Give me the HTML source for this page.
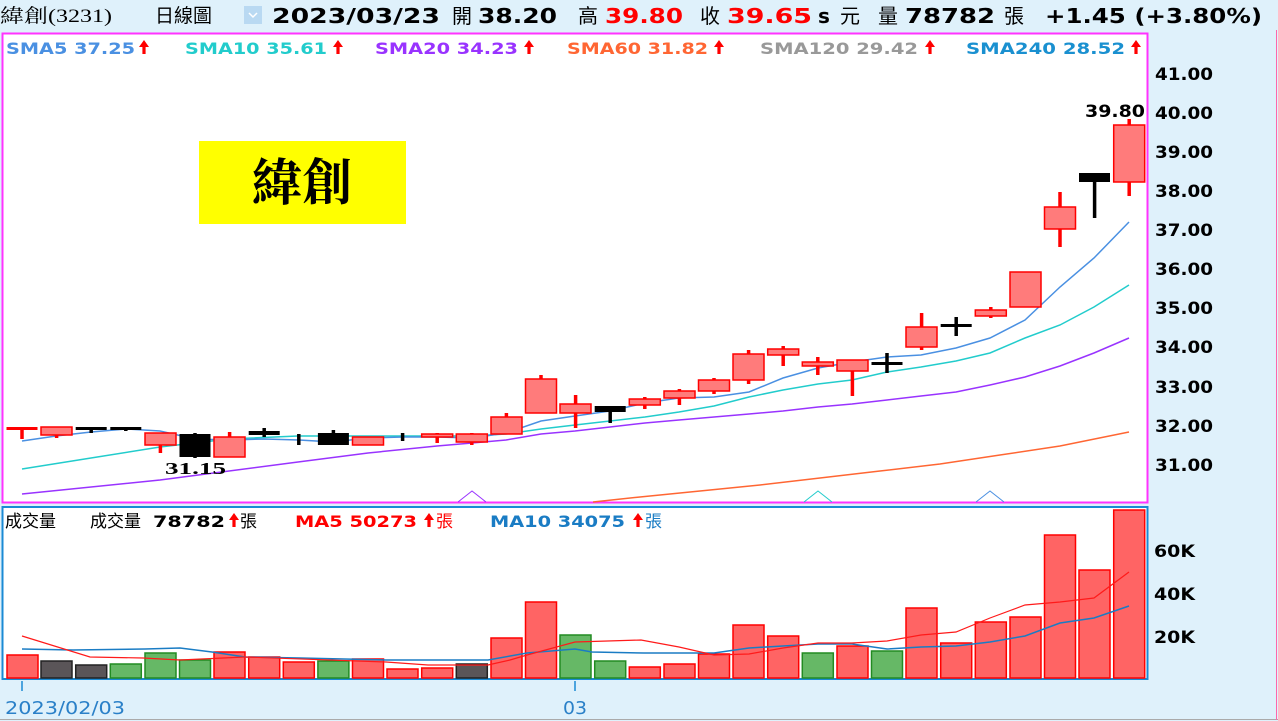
<!DOCTYPE html>
<html><head><meta charset="utf-8">
<style>
html,body{margin:0;padding:0;background:#dff1fb;}
body{width:1278px;height:721px;overflow:hidden;position:relative;}
svg{position:absolute;left:0;top:0;}
</style></head><body>
<svg width="1278" height="721" viewBox="0 0 1278 721" font-family="DejaVu Sans, Noto Sans CJK TC, sans-serif">
<defs><path id="ar" d="M0,-7 L5,0 L1.6,0 L1.6,7 L-1.6,7 L-1.6,0 L-5,0Z" fill="#f00"/></defs>
<rect x="0" y="0" width="1278" height="721" fill="#dff1fb"/>
<!-- header -->
<g lengthAdjust="spacingAndGlyphs">
<text x="0" y="22" font-size="19" fill="#000" textLength="112" lengthAdjust="spacingAndGlyphs" font-family="Liberation Serif, Noto Serif CJK SC, Noto Sans CJK TC, serif">緯創(3231)</text>
<text x="155" y="22" font-size="19" fill="#000" font-family="Noto Sans CJK TC, sans-serif">日線圖</text>
</g>
<rect x="244" y="6" width="18" height="18" fill="#b9d9f2"/>
<polyline points="249,13 253,17 257,13" fill="none" stroke="#fff" stroke-width="1.5"/>
<g font-size="20" font-weight="bold">
<text x="272" y="23" fill="#000" textLength="168" lengthAdjust="spacingAndGlyphs">2023/03/23</text>
<text x="452" y="23" fill="#000" font-weight="normal" font-family="Noto Sans CJK TC, sans-serif">開</text>
<text x="478" y="23" fill="#000" textLength="79" lengthAdjust="spacingAndGlyphs">38.20</text>
<text x="578" y="23" fill="#000" font-weight="normal" font-family="Noto Sans CJK TC, sans-serif">高</text>
<text x="605" y="23" fill="#ff0000" textLength="78" lengthAdjust="spacingAndGlyphs">39.80</text>
<text x="700" y="23" fill="#000" font-weight="normal" font-family="Noto Sans CJK TC, sans-serif">收</text>
<text x="727" y="23" fill="#ff0000" textLength="85" lengthAdjust="spacingAndGlyphs">39.65</text>
<text x="818" y="23" fill="#000">s</text>
<text x="840" y="23" fill="#000" font-weight="normal" font-family="Noto Sans CJK TC, sans-serif">元</text>
<text x="878" y="23" fill="#000" font-weight="normal" font-family="Noto Sans CJK TC, sans-serif">量</text>
<text x="905" y="23" fill="#000" textLength="90" lengthAdjust="spacingAndGlyphs">78782</text>
<text x="1004" y="23" fill="#000" font-weight="normal" font-family="Noto Sans CJK TC, sans-serif">張</text>
<text x="1045" y="23" fill="#000" textLength="217" lengthAdjust="spacingAndGlyphs">+1.45 (+3.80%)</text>
</g>
<!-- price panel -->
<rect x="2.5" y="33.5" width="1145" height="469" fill="#fff" stroke="#ff33ff" stroke-width="2"/>
<g font-size="16" font-weight="bold">
<text x="6" y="54" fill="#4a90e2" textLength="129" lengthAdjust="spacingAndGlyphs">SMA5 37.25</text>
<text x="185" y="54" fill="#22cccc" textLength="142" lengthAdjust="spacingAndGlyphs">SMA10 35.61</text>
<text x="375" y="54" fill="#9933ff" textLength="143" lengthAdjust="spacingAndGlyphs">SMA20 34.23</text>
<text x="567" y="54" fill="#ff6633" textLength="141" lengthAdjust="spacingAndGlyphs">SMA60 31.82</text>
<text x="760" y="54" fill="#999" textLength="158" lengthAdjust="spacingAndGlyphs">SMA120 29.42</text>
<text x="966" y="54" fill="#1a90d0" textLength="159" lengthAdjust="spacingAndGlyphs">SMA240 28.52</text>
</g>
<use href="#ar" x="144" y="47"/><use href="#ar" x="338" y="47"/><use href="#ar" x="529" y="47"/>
<use href="#ar" x="719" y="47"/><use href="#ar" x="930" y="47"/><use href="#ar" x="1136" y="47"/>
<!-- right axis -->
<g font-size="17" font-weight="bold" fill="#000">
<text x="1155" y="80" textLength="58" lengthAdjust="spacingAndGlyphs">41.00</text><text x="1155" y="119" textLength="58" lengthAdjust="spacingAndGlyphs">40.00</text><text x="1155" y="158" textLength="58" lengthAdjust="spacingAndGlyphs">39.00</text>
<text x="1155" y="197" textLength="58" lengthAdjust="spacingAndGlyphs">38.00</text><text x="1155" y="236" textLength="58" lengthAdjust="spacingAndGlyphs">37.00</text><text x="1155" y="275" textLength="58" lengthAdjust="spacingAndGlyphs">36.00</text>
<text x="1155" y="314" textLength="58" lengthAdjust="spacingAndGlyphs">35.00</text><text x="1155" y="353" textLength="58" lengthAdjust="spacingAndGlyphs">34.00</text><text x="1155" y="393" textLength="58" lengthAdjust="spacingAndGlyphs">33.00</text>
<text x="1155" y="432" textLength="58" lengthAdjust="spacingAndGlyphs">32.00</text><text x="1155" y="471" textLength="58" lengthAdjust="spacingAndGlyphs">31.00</text>
</g>
<!-- title -->
<rect x="199" y="141" width="207" height="83" fill="#ffff00"/>
<text x="302" y="200" font-size="50" font-weight="bold" text-anchor="middle" fill="#000" font-family="Noto Serif CJK SC, Noto Sans CJK TC, serif">緯創</text>
<!-- MA lines -->
<polyline fill="none" stroke="#ff6633" stroke-width="1.5" points="593,502 640,497 700,491 760,485 820,478 880,471 940,464 1000,455 1060,446 1129,432"/>
<polyline fill="none" stroke="#9933ff" stroke-width="1.5" points="22,494 160,480 298,462 368,453 437,446 472,443 506,440 541,434 575,431 610,427 645,423 679,420 714,417 749,414 783,411 818,407 852,404 887,400 921,396 956,392 990,385 1025,377 1060,366 1094,353 1129,338"/>
<polyline fill="none" stroke="#22cccc" stroke-width="1.5" points="22,469 91,458 160,447 229,439 298,436 368,436 437,436 472,436 506,434 541,429 575,425 610,421 645,417 679,412 714,406 749,397 783,390 818,384 852,380 887,372 921,367 956,361 990,353 1025,338 1060,325 1094,307 1129,285"/>
<polyline fill="none" stroke="#4a90e2" stroke-width="1.5" points="22,441 56,436 91,432 126,429 160,431 195,439 230,440 264,439 299,440 333,442 368,438 403,437 437,437 472,438 506,433 541,421 575,416 610,411 645,403 679,398 714,397 749,392 783,378 818,368 852,362 887,357 921,355 956,348 990,338 1025,320 1060,287 1094,258 1129,222"/>
<polyline fill="none" stroke="#9933ff" stroke-width="1" points="458,502 472,491 486,502"/>
<polyline fill="none" stroke="#22cccc" stroke-width="1" points="804,502 818,491 832,502"/>
<polyline fill="none" stroke="#4a90e2" stroke-width="1" points="976,502 990,491 1004,502"/>
<!-- candles -->
<g stroke-width="3.5">
<line x1="22" y1="428" x2="22" y2="439" stroke="#f00"/><rect x="6.5" y="427" width="31" height="3" fill="#f00"/>
<line x1="56.6" y1="430" x2="56.6" y2="438" stroke="#f00"/>
<line x1="91.2" y1="428" x2="91.2" y2="433" stroke="#000"/>
<line x1="125.8" y1="428" x2="125.8" y2="431" stroke="#000"/>
<line x1="160.4" y1="440" x2="160.4" y2="453" stroke="#f00"/>
<line x1="195" y1="433" x2="195" y2="458" stroke="#000"/>
<line x1="229.6" y1="432" x2="229.6" y2="440" stroke="#f00"/>
<line x1="264.2" y1="428" x2="264.2" y2="437" stroke="#000"/>
<line x1="298.8" y1="434" x2="298.8" y2="445" stroke="#000"/>
<line x1="333.4" y1="430" x2="333.4" y2="440" stroke="#000"/>
<line x1="402.6" y1="433" x2="402.6" y2="441" stroke="#000"/>
<line x1="437.2" y1="433" x2="437.2" y2="443" stroke="#f00"/>
<line x1="471.8" y1="433" x2="471.8" y2="445" stroke="#f00"/>
<line x1="506.4" y1="413" x2="506.4" y2="420" stroke="#f00"/>
<line x1="541" y1="375" x2="541" y2="380" stroke="#f00"/>
<line x1="575.6" y1="395" x2="575.6" y2="428" stroke="#f00"/>
<line x1="610.2" y1="408" x2="610.2" y2="423" stroke="#000"/>
<line x1="644.8" y1="397" x2="644.8" y2="409" stroke="#f00"/>
<line x1="679.4" y1="389" x2="679.4" y2="405" stroke="#f00"/>
<line x1="714" y1="378" x2="714" y2="394" stroke="#f00"/>
<line x1="748.6" y1="350" x2="748.6" y2="384" stroke="#f00"/>
<line x1="783.2" y1="346" x2="783.2" y2="366" stroke="#f00"/>
<line x1="817.8" y1="357" x2="817.8" y2="375" stroke="#f00"/>
<line x1="852.4" y1="365" x2="852.4" y2="396" stroke="#f00"/>
<line x1="887" y1="353" x2="887" y2="373" stroke="#000"/>
<line x1="921.6" y1="313" x2="921.6" y2="350" stroke="#f00"/>
<line x1="956.2" y1="317" x2="956.2" y2="336" stroke="#000"/>
<line x1="990.8" y1="307" x2="990.8" y2="318" stroke="#f00"/>
<line x1="1060" y1="192" x2="1060" y2="247" stroke="#f00"/>
<line x1="1094.6" y1="178" x2="1094.6" y2="218" stroke="#000"/>
<line x1="1129.2" y1="119" x2="1129.2" y2="196" stroke="#f00"/>
</g>
<g fill="#ff7b7b" stroke="#f00" stroke-width="1.5">
<rect x="41" y="427" width="31" height="8"/>
<rect x="145" y="433" width="31" height="12"/>
<rect x="214" y="437" width="31" height="20"/>
<rect x="352.5" y="437" width="31" height="8"/>
<rect x="421.7" y="434" width="31" height="3"/>
<rect x="456.3" y="434" width="31" height="8"/>
<rect x="491" y="417" width="31" height="17"/>
<rect x="525.5" y="379" width="31" height="34"/>
<rect x="560" y="404" width="31" height="9"/>
<rect x="629.3" y="399" width="31" height="6"/>
<rect x="664" y="391" width="31" height="7"/>
<rect x="698.5" y="380" width="31" height="11"/>
<rect x="733" y="354" width="31" height="26"/>
<rect x="767.7" y="349" width="31" height="6"/>
<rect x="802.3" y="362" width="31" height="4"/>
<rect x="837" y="360" width="31" height="11"/>
<rect x="906" y="327" width="31" height="20"/>
<rect x="975.3" y="310" width="31" height="6"/>
<rect x="1010" y="272" width="31" height="35"/>
<rect x="1044.5" y="207" width="31" height="22"/>
<rect x="1113.7" y="125" width="31" height="57"/>
</g>
<g fill="#000">
<rect x="75.7" y="427" width="31" height="3"/>
<rect x="110.3" y="427" width="31" height="3"/>
<rect x="179.5" y="434" width="31" height="23"/>
<rect x="248.7" y="431" width="31" height="4"/>
<rect x="317.9" y="433" width="31" height="12"/>
<rect x="594.7" y="406" width="31" height="6"/>
<rect x="871.5" y="362" width="31" height="3"/>
<rect x="940.7" y="324" width="31" height="3"/>
<rect x="1079" y="173" width="31" height="9"/>
</g>
<text x="165" y="474" font-size="17" font-weight="bold" fill="#000" textLength="61" lengthAdjust="spacingAndGlyphs" font-family="Liberation Serif, serif">31.15</text>
<text x="1085" y="117" font-size="17" font-weight="bold" fill="#000" textLength="60" lengthAdjust="spacingAndGlyphs">39.80</text>
<!-- volume panel -->
<rect x="2.5" y="507" width="1145" height="172" fill="#fff" stroke="#1a8ad4" stroke-width="2"/>
<g font-size="17" font-family="Noto Sans CJK TC, sans-serif">
<text x="5" y="527" fill="#000">成交量</text>
<text x="90" y="527" fill="#000">成交量</text>
<text x="240" y="527" fill="#000">張</text>
<text x="436" y="527" fill="#f00">張</text>
<text x="645" y="527" fill="#1a7cc4">張</text>
</g>
<g font-size="16" font-weight="bold">
<text x="153" y="527" fill="#000" textLength="72" lengthAdjust="spacingAndGlyphs">78782</text>
<text x="295" y="527" fill="#f00" textLength="122" lengthAdjust="spacingAndGlyphs">MA5 50273</text>
<text x="490" y="527" fill="#1a7cc4" textLength="135" lengthAdjust="spacingAndGlyphs">MA10 34075</text>
</g>
<use href="#ar" x="234" y="520"/><use href="#ar" x="429" y="520"/><use href="#ar" x="638" y="520"/>
<g font-size="17" font-weight="bold" fill="#000">
<text x="1154" y="557" textLength="41" lengthAdjust="spacingAndGlyphs">60K</text><text x="1154" y="600" textLength="41" lengthAdjust="spacingAndGlyphs">40K</text><text x="1154" y="643" textLength="41" lengthAdjust="spacingAndGlyphs">20K</text>
</g>
<g stroke-width="1.5">
<g fill="#ff6464" stroke="#f00">
<rect x="7" y="655" width="31" height="23"/>
<rect x="214" y="652" width="31" height="26"/>
<rect x="248.7" y="657" width="31" height="21"/>
<rect x="283.3" y="662" width="31" height="16"/>
<rect x="352.5" y="659" width="31" height="19"/>
<rect x="387" y="669" width="31" height="9"/>
<rect x="421.7" y="668" width="31" height="10"/>
<rect x="491" y="638" width="31" height="40"/>
<rect x="525.5" y="602" width="31" height="76"/>
<rect x="629.3" y="667" width="31" height="11"/>
<rect x="664" y="664" width="31" height="14"/>
<rect x="698.5" y="654" width="31" height="24"/>
<rect x="733" y="625" width="31" height="53"/>
<rect x="767.7" y="636" width="31" height="42"/>
<rect x="837" y="646" width="31" height="32"/>
<rect x="906" y="608" width="31" height="70"/>
<rect x="940.7" y="643" width="31" height="35"/>
<rect x="975.3" y="622" width="31" height="56"/>
<rect x="1010" y="617" width="31" height="61"/>
<rect x="1044.5" y="535" width="31" height="143"/>
<rect x="1079" y="570" width="31" height="108"/>
<rect x="1113.7" y="510" width="31" height="168"/>
</g>
<g fill="#66b866" stroke="#228b22">
<rect x="110.3" y="664" width="31" height="14"/>
<rect x="145" y="653" width="31" height="25"/>
<rect x="179.5" y="660" width="31" height="18"/>
<rect x="317.9" y="661" width="31" height="17"/>
<rect x="560" y="635" width="31" height="43"/>
<rect x="594.7" y="661" width="31" height="17"/>
<rect x="802.3" y="653" width="31" height="25"/>
<rect x="871.5" y="651" width="31" height="27"/>
</g>
<g fill="#5a5558" stroke="#222">
<rect x="41" y="661" width="31" height="17"/>
<rect x="75.7" y="665" width="31" height="13"/>
<rect x="456.3" y="664" width="31" height="14"/>
</g>
</g>
<polyline fill="none" stroke="#1a7cc4" stroke-width="1.5" points="22,649 73,650 145,649 180,648 212,652 245,657 300,658 386,660 488,660 527,653 575,649 592,652 644,653 714,653 749,648 783,646 818,644 852,644 887,649 921,647 956,646 990,642 1025,636 1060,623 1094,618 1129,606"/>
<polyline fill="none" stroke="#ff1a1a" stroke-width="1.2" points="22,636 90,657 143,658 180,660 245,657 386,662 428,665 488,665 510,660 527,655 575,642 641,640 679,647 714,655 749,654 783,648 818,643 852,643 887,641 921,635 956,632 990,618 1025,605 1060,602 1094,598 1129,572"/>
<!-- x axis -->
<line x1="22" y1="681" x2="22" y2="691" stroke="#1a8ad4" stroke-width="1.5"/>
<line x1="575" y1="681" x2="575" y2="691" stroke="#1a8ad4" stroke-width="1.5"/>
<text x="5" y="714" font-size="18" fill="#2a80c8" textLength="120" lengthAdjust="spacingAndGlyphs">2023/02/03</text>
<text x="563" y="714" font-size="18" fill="#2a80c8" textLength="24" lengthAdjust="spacingAndGlyphs">03</text>
<line x1="0" y1="719.5" x2="1278" y2="719.5" stroke="#aaa" stroke-width="1"/>
<line x1="1276.5" y1="30" x2="1276.5" y2="720" stroke="#ff66aa" stroke-width="1"/>
</svg>
</body></html>
